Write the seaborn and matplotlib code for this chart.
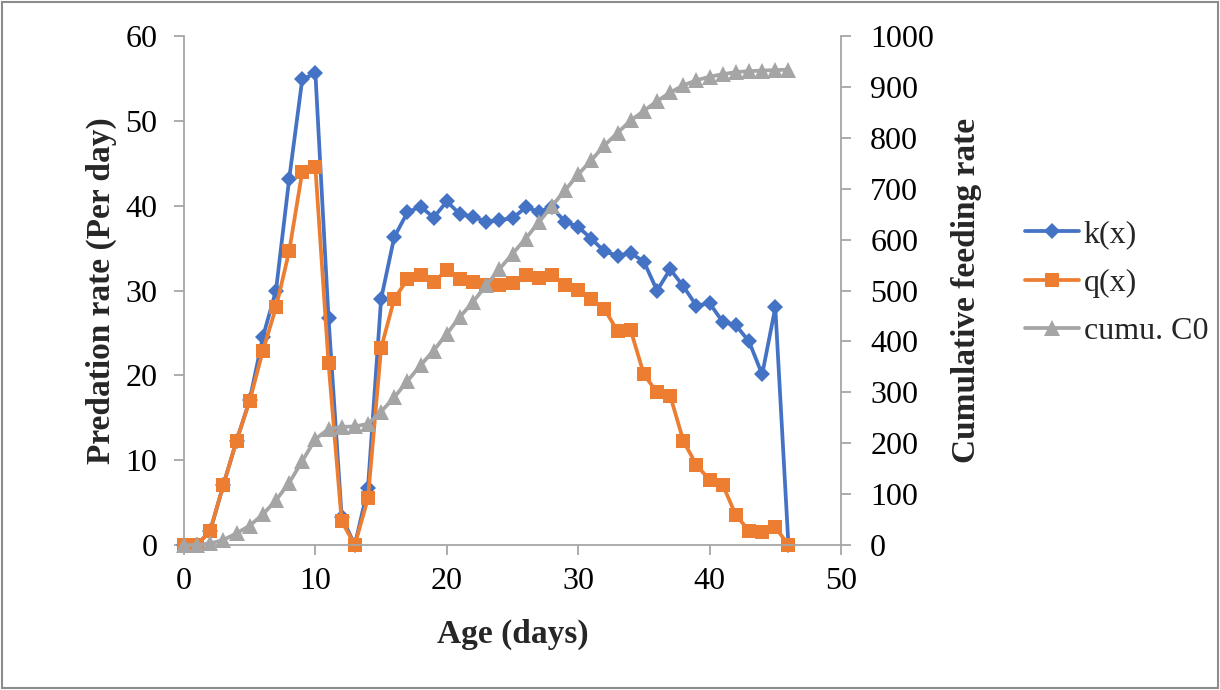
import numpy as np
import pandas as pd
import matplotlib.pyplot as plt
import matplotlib.patches as mpatches
import seaborn as sns

# ---- dados ----
idade = list(range(47))

k_x = [0, 0, 1.7, 7.1, 12.3, 17.1, 24.5, 30.0, 43.1, 54.9, 55.6, 26.7, 3.3, 0,
       6.7, 29.0, 36.3, 39.2, 39.9, 38.6, 40.5, 39.0, 38.7, 38.1, 38.3, 38.5,
       39.8, 39.3, 39.8, 38.1, 37.5, 36.1, 34.6, 34.1, 34.4, 33.4, 30.0, 32.5,
       30.5, 28.2, 28.5, 26.3, 25.9, 24.0, 20.1, 28.0, 0]

q_x = [0, 0, 1.7, 7.1, 12.3, 17.0, 22.9, 28.0, 34.6, 44.0, 44.5, 21.4, 2.8, 0,
       5.5, 23.2, 29.0, 31.3, 31.8, 31.0, 32.4, 31.3, 31.0, 30.6, 30.7, 30.9,
       31.8, 31.5, 31.8, 30.6, 30.1, 29.0, 27.8, 25.2, 25.3, 20.1, 18.0, 17.6,
       12.3, 9.4, 7.7, 7.1, 3.5, 1.7, 1.5, 2.1, 0]

cumu_c0 = [0, 0, 3, 10, 23, 38, 60, 88, 122, 165, 208, 228, 232, 233, 238,
           262, 290, 322, 353, 382, 415, 448, 478, 510, 542, 572, 602, 634,
           666, 697, 728, 756, 785, 810, 834, 853, 872, 889, 903, 913, 920,
           925, 929, 931, 932, 933, 934]

AZUL = "#4472C4"
LARANJA = "#ED7D31"
CINZA = "#A5A5A5"
EIXO = "#A6A6A6"

sns.set_theme(style="white")
plt.rcParams["font.family"] = ["Liberation Serif", "DejaVu Serif"]
FS = 23

df = pd.DataFrame({"idade": idade, "k": k_x, "q": q_x, "c0": cumu_c0})

fig = plt.figure(figsize=(12.2, 6.9), dpi=100)
ax = fig.add_axes([184 / 1220, 145 / 690, (841 - 184) / 1220, (545 - 36) / 690])
ax2 = ax.twinx()

sns.lineplot(data=df, x="idade", y="k", ax=ax, color=AZUL, linewidth=2.7,
             marker="D", markersize=8.5, markeredgewidth=0, label="k(x)",
             legend=False, clip_on=False)
sns.lineplot(data=df, x="idade", y="q", ax=ax, color=LARANJA, linewidth=2.7,
             marker="s", markersize=10.5, markeredgewidth=0, label="q(x)",
             legend=False, clip_on=False)
sns.lineplot(data=df, x="idade", y="c0", ax=ax2, color=CINZA, linewidth=2.7,
             marker="^", markersize=12, markeredgewidth=0, label="cumu. C0",
             legend=False, clip_on=False)

ax.set_xlim(0, 50)
ax.set_ylim(0, 60)
ax2.set_ylim(0, 1000)
ax.set_xticks(range(0, 51, 10))
ax.set_yticks(range(0, 61, 10))
ax2.set_yticks(range(0, 1001, 100))

for a in (ax, ax2):
    a.grid(False)
    a.spines["top"].set_visible(False)
    for s in ("left", "right", "bottom"):
        a.spines[s].set_color(EIXO)
        a.spines[s].set_linewidth(1.3)
    a.tick_params(colors=EIXO, labelcolor="black", labelsize=FS,
                  length=7, width=1.3, direction="out")
ax.spines["right"].set_visible(False)
ax2.spines["left"].set_visible(False)
ax2.spines["bottom"].set_visible(False)
ax.tick_params(axis="y", left=True, pad=12)
ax.tick_params(axis="x", bottom=True, pad=9)
ax2.tick_params(axis="y", right=True, pad=14)

ax.set_xlabel("Age (days)", fontsize=FS + 1, fontweight="bold", labelpad=16)
ax.set_ylabel("Predation rate (Per day)", fontsize=FS + 1, fontweight="bold",
              labelpad=6)
ax2.set_ylabel("Cumulative feeding rate", fontsize=FS + 1, fontweight="bold",
               labelpad=12)

h1, l1 = ax.get_legend_handles_labels()
h2, l2 = ax2.get_legend_handles_labels()
fig.legend(h1 + h2, l1 + l2, loc="center left",
           bbox_to_anchor=(1012 / 1220, 1 - 283 / 690), frameon=False,
           fontsize=FS, handlelength=1.7, handletextpad=0.15,
           labelspacing=0.6, borderaxespad=0)

# moldura externa do gráfico
fig.patches.append(mpatches.Rectangle((0.002, 0.003), 0.996, 0.994,
                                      transform=fig.transFigure, fill=False,
                                      edgecolor="#8C8C8C", linewidth=1.5))

fig.savefig("out.png", dpi=100)
